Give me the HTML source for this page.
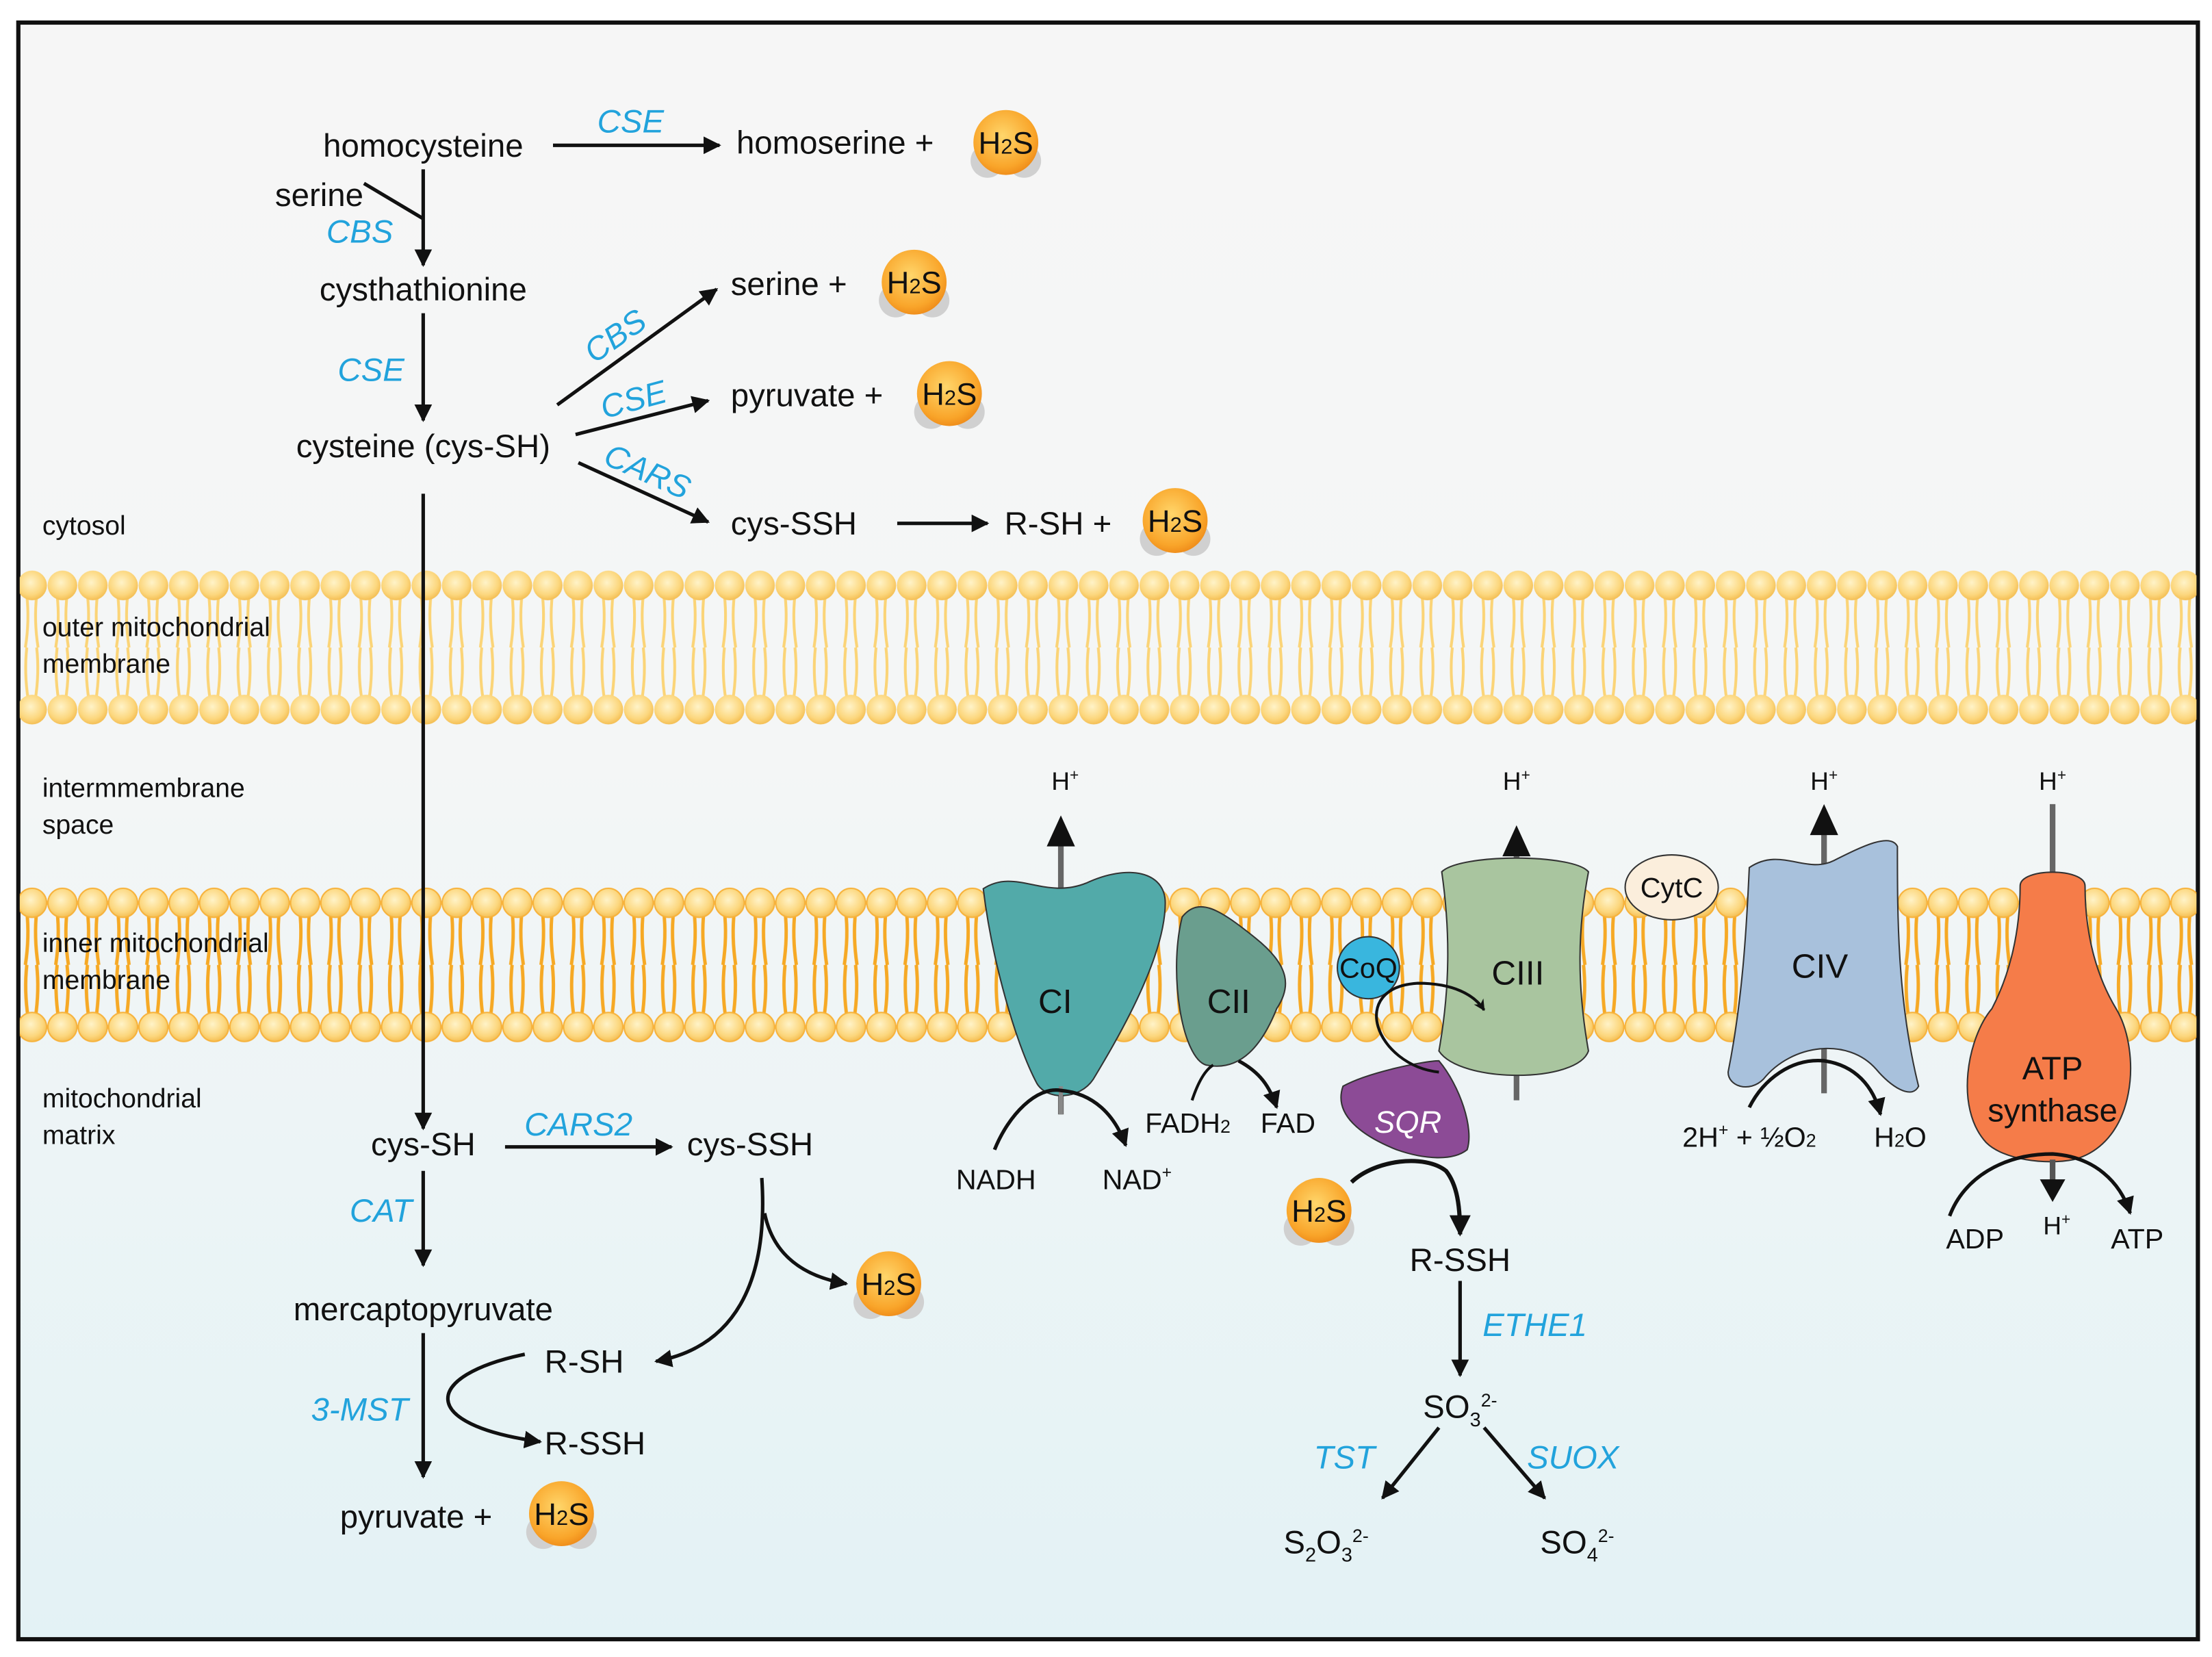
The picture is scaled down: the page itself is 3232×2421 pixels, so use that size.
<!DOCTYPE html>
<html><head><meta charset="utf-8"><style>
html,body{margin:0;padding:0;background:#fff}
svg{display:block}
text{font-family:"Liberation Sans",sans-serif;font-size:23px;fill:#111}
.e{fill:#22a3dc;font-style:italic}
</style></head><body>
<svg width="3232" height="2421" viewBox="0 0 1568 1174.6" preserveAspectRatio="none" xmlns="http://www.w3.org/2000/svg">
<defs>
<linearGradient id="bg" x1="0" y1="0" x2="0" y2="1">
<stop offset="0" stop-color="#f6f6f6"/><stop offset="0.45" stop-color="#f4f6f6"/><stop offset="1" stop-color="#e3f2f5"/></linearGradient>
<radialGradient id="hd" cx="0.45" cy="0.4" r="0.6"><stop offset="0" stop-color="#fff3c8"/><stop offset="0.7" stop-color="#fcd77e"/><stop offset="1" stop-color="#f4bf55"/></radialGradient>
<radialGradient id="hs" cx="0.45" cy="0.4" r="0.6"><stop offset="0" stop-color="#ffd66b"/><stop offset="0.8" stop-color="#f9a52a"/><stop offset="1" stop-color="#f08f1c"/></radialGradient>
<pattern id="mem" x="12" y="404" width="21.5" height="110" patternUnits="userSpaceOnUse">
<path d="M7,18 q2,18 -1,37 M14,18 q-2,18 1,37 M7,55 q-2,18 1,37 M14,55 q2,18 -1,37" stroke="#fbd477" stroke-width="2" fill="none"/>
<circle cx="10.75" cy="11" r="10.5" fill="url(#hd)"/>
<circle cx="10.75" cy="99" r="10.5" fill="url(#hd)"/>
</pattern>
<pattern id="mem2" x="12" y="628" width="21.5" height="112" patternUnits="userSpaceOnUse">
<path d="M7,18 q2,18 -1,38 M14,18 q-2,18 1,38 M7,56 q-2,18 1,38 M14,56 q2,18 -1,38" stroke="#f6a925" stroke-width="2.4" fill="none"/>
<circle cx="10.75" cy="12" r="10.3" fill="url(#hd)" stroke="#f7b23b" stroke-width="1"/>
<circle cx="10.75" cy="100" r="10.3" fill="url(#hd)" stroke="#f7b23b" stroke-width="1"/>
</pattern>
<marker id="a" viewBox="0 0 10 10" refX="9" refY="5" markerWidth="5" markerHeight="5" orient="auto"><path d="M0,0L10,5L0,10z" fill="#111"/></marker>
<marker id="b" viewBox="0 0 10 10" refX="9" refY="5" markerWidth="4" markerHeight="4" orient="auto"><path d="M0,0L10,5L0,10L3,5z" fill="#111"/></marker>
<g id="h2s"><circle cx="-13" cy="13" r="12" fill="#d0d0d0"/><circle cx="13" cy="13" r="12" fill="#d0d0d0"/><circle cx="0" cy="0" r="23" fill="url(#hs)"/><text x="0" y="8" text-anchor="middle" style="font-size:22px">H<tspan style="font-size:15px">2</tspan>S</text></g>
</defs>
<rect x="0" y="0" width="1568" height="1175" fill="#fff"/>
<rect x="13" y="16" width="1545" height="1146" fill="url(#bg)" stroke="#111" stroke-width="3"/>
<rect x="14" y="404" width="1543" height="110" fill="url(#mem)"/>
<rect x="14" y="628" width="1543" height="112" fill="url(#mem2)"/>

<g stroke="#111" stroke-width="2.5" fill="none">
<line x1="392" y1="103" x2="510" y2="103" marker-end="url(#a)"/>
<line x1="300" y1="120" x2="300" y2="188" marker-end="url(#a)"/>
<line x1="258" y1="130" x2="300" y2="155"/>
<line x1="300" y1="222" x2="300" y2="298" marker-end="url(#a)"/>
<line x1="395" y1="287" x2="508" y2="205" marker-end="url(#a)"/>
<line x1="408" y1="308" x2="502" y2="284" marker-end="url(#a)"/>
<line x1="410" y1="328" x2="502" y2="370" marker-end="url(#a)"/>
<line x1="636" y1="371" x2="700" y2="371" marker-end="url(#a)"/>
<line x1="300" y1="350" x2="300" y2="800" marker-end="url(#a)"/>
<line x1="358" y1="813" x2="476" y2="813" marker-end="url(#a)"/>
<line x1="300" y1="830" x2="300" y2="897" marker-end="url(#a)"/>
<line x1="300" y1="945" x2="300" y2="1047" marker-end="url(#a)"/>
<path d="M540,835 C545,910 520,955 465,965" marker-end="url(#a)"/>
<path d="M542,860 C548,890 570,905 600,910" marker-end="url(#a)"/>
<path d="M372,960 C300,975 295,1010 383,1022" marker-end="url(#a)"/>
</g>
<text x="300" y="111" text-anchor="middle">homocysteine</text>
<text x="447" y="94" text-anchor="middle" class="e">CSE</text>
<text x="522" y="109">homoserine +</text>
<use href="#h2s" x="713" y="101"/>
<text x="195" y="146">serine</text>
<text x="255" y="172" text-anchor="middle" class="e">CBS</text>
<text x="300" y="213" text-anchor="middle">cysthathionine</text>
<text x="263" y="270" text-anchor="middle" class="e">CSE</text>
<text x="300" y="324" text-anchor="middle">cysteine (cys-SH)</text>
<text x="436" y="246" text-anchor="middle" class="e" transform="rotate(-35 436 238)">CBS</text>
<text x="518" y="209">serine +</text>
<use href="#h2s" x="648" y="200"/>
<text x="449" y="291" text-anchor="middle" class="e" transform="rotate(-15 449 283)">CSE</text>
<text x="518" y="288">pyruvate +</text>
<use href="#h2s" x="673" y="279"/>
<text x="459" y="342" text-anchor="middle" class="e" transform="rotate(24 459 334)">CARS</text>
<text x="518" y="379">cys-SSH</text>
<text x="712" y="379">R-SH +</text>
<use href="#h2s" x="833" y="369"/>
<text x="30" y="379" style="font-size:19px">cytosol</text>
<text x="30" y="451" style="font-size:19px">outer mitochondrial</text>
<text x="30" y="477" style="font-size:19px">membrane</text>
<text x="30" y="565" style="font-size:19px">intermmembrane</text>
<text x="30" y="591" style="font-size:19px">space</text>
<text x="30" y="675" style="font-size:19px">inner mitochondrial</text>
<text x="30" y="701" style="font-size:19px">membrane</text>
<text x="30" y="785" style="font-size:19px">mitochondrial</text>
<text x="30" y="811" style="font-size:19px">matrix</text>
<text x="300" y="819" text-anchor="middle">cys-SH</text>
<text x="410" y="805" text-anchor="middle" class="e">CARS2</text>
<text x="487" y="819">cys-SSH</text>
<text x="270" y="866" text-anchor="middle" class="e">CAT</text>
<text x="300" y="936" text-anchor="middle">mercaptopyruvate</text>
<use href="#h2s" x="630" y="910"/>
<text x="386" y="973">R-SH</text>
<text x="386" y="1031">R-SSH</text>
<text x="255" y="1007" text-anchor="middle" class="e">3-MST</text>
<text x="241" y="1083">pyruvate +</text>
<use href="#h2s" x="398" y="1073"/>

<g stroke="#666" stroke-width="4"><line x1="752" y1="790" x2="752" y2="595"/><line x1="1075" y1="780" x2="1075" y2="590"/><line x1="1293" y1="775" x2="1293" y2="585"/><line x1="1455" y1="570" x2="1455" y2="625"/></g>
<g fill="#111"><path d="M742,600L752,578L762,600z"/><path d="M1065,607L1075,585L1085,607z"/><path d="M1283,592L1293,570L1303,592z"/></g>
<text x="755" y="560" text-anchor="middle" style="font-size:18px">H<tspan dy="-7" style="font-size:11px">+</tspan></text>
<text x="1075" y="560" text-anchor="middle" style="font-size:18px">H<tspan dy="-7" style="font-size:11px">+</tspan></text>
<text x="1293" y="560" text-anchor="middle" style="font-size:18px">H<tspan dy="-7" style="font-size:11px">+</tspan></text>
<text x="1455" y="560" text-anchor="middle" style="font-size:18px">H<tspan dy="-7" style="font-size:11px">+</tspan></text>

<path d="M697,630 C720,615 740,638 770,626 C800,612 826,618 826,640 C826,680 790,740 775,765 C765,780 742,780 735,768 C720,740 703,680 697,630z" fill="#52aaa9" stroke="#333" stroke-width="1"/>
<line x1="752" y1="770" x2="752" y2="790" stroke="#888" stroke-width="3"/>
<text x="748" y="718" text-anchor="middle" style="font-size:24px">CI</text>
<path d="M838,650 C850,635 865,645 890,665 C915,685 915,700 905,715 C895,740 880,760 855,755 C838,750 828,690 838,650z" fill="#6a9e8e" stroke="#333" stroke-width="1"/>
<text x="871" y="718" text-anchor="middle" style="font-size:24px">CII</text>
<path d="M1022,618 C1035,605 1115,605 1126,618 C1118,660 1118,700 1126,745 C1118,768 1035,768 1020,745 C1028,700 1028,660 1022,618z" fill="#a9c59f" stroke="#333" stroke-width="1"/>
<text x="1076" y="698" text-anchor="middle" style="font-size:24px">CIII</text>
<circle cx="970" cy="686" r="22" fill="#39b6de" stroke="#333" stroke-width="1"/>
<text x="970" y="693" text-anchor="middle" style="font-size:20px">CoQ</text>
<path d="M952,770 C970,760 1010,752 1020,752 C1035,770 1045,800 1040,815 C1030,823 1010,822 990,815 C965,805 945,790 952,770z" fill="#8c4b96" stroke="#333" stroke-width="1"/>
<text x="998" y="803" text-anchor="middle" style="font-size:22px;fill:#fff;font-style:italic">SQR</text>
<path d="M1020,760 C975,755 955,700 1005,697 C1030,697 1045,705 1052,716" stroke="#111" stroke-width="2" fill="none" marker-end="url(#b)"/>
<ellipse cx="1185" cy="629" rx="33" ry="23" fill="#fbeedc" stroke="#333" stroke-width="1"/>
<text x="1185" y="636" text-anchor="middle" style="font-size:20px">CytC</text>
<path d="M1240,615 C1262,600 1280,620 1300,610 C1320,600 1340,590 1345,600 C1345,650 1345,710 1360,770 C1355,780 1340,770 1330,758 C1310,735 1270,740 1250,765 C1240,775 1225,770 1225,760 C1235,710 1238,660 1240,615z" fill="#a8c1dc" stroke="#333" stroke-width="1"/>
<text x="1290" y="693" text-anchor="middle" style="font-size:24px">CIV</text>
<path d="M1432,628 C1432,615 1478,615 1478,628 C1478,660 1485,690 1500,715 C1518,745 1515,810 1470,822 C1450,826 1420,822 1408,810 C1385,785 1395,735 1412,715 C1425,690 1432,660 1432,628z" fill="#f57c49" stroke="#333" stroke-width="1"/>
<text x="1455" y="765" text-anchor="middle" style="font-size:23px">ATP</text>
<text x="1455" y="795" text-anchor="middle" style="font-size:23px">synthase</text>

<g stroke="#111" stroke-width="2" fill="none">
<path d="M705,815 C715,790 735,770 752,773 C775,775 790,790 798,812" marker-end="url(#a)" stroke-width="2.5"/>
<path d="M845,780 C850,765 855,758 860,755"/>
<path d="M878,752 C893,760 900,770 905,785" marker-end="url(#a)" stroke-width="2.5"/>
<path d="M958,838 C975,822 1010,818 1025,830 C1033,840 1035,855 1035,875" marker-end="url(#a)" stroke-width="3"/>
<line x1="1035" y1="908" x2="1035" y2="975" marker-end="url(#a)" stroke-width="2.5"/>
<line x1="1020" y1="1012" x2="980" y2="1062" marker-end="url(#a)" stroke-width="2.5"/>
<line x1="1052" y1="1012" x2="1095" y2="1062" marker-end="url(#a)" stroke-width="2.5"/>
<path d="M1240,785 C1250,765 1270,750 1293,752 C1315,755 1328,770 1333,790" marker-end="url(#a)" stroke-width="2.5"/>
<path d="M1382,862 C1392,835 1420,818 1455,818 C1485,820 1503,838 1510,860" marker-end="url(#a)" stroke-width="2.5"/>
</g>
<line x1="1455" y1="822" x2="1455" y2="842" stroke="#555" stroke-width="4"/>
<path d="M1446,836L1455,852L1464,836z" fill="#111"/>
<text x="706" y="843" text-anchor="middle" style="font-size:20px">NADH</text>
<text x="806" y="843" text-anchor="middle" style="font-size:20px">NAD<tspan dy="-8" style="font-size:12px">+</tspan></text>
<text x="842" y="803" text-anchor="middle" style="font-size:20px">FADH<tspan style="font-size:13px">2</tspan></text>
<text x="913" y="803" text-anchor="middle" style="font-size:20px">FAD</text>
<use href="#h2s" x="935" y="858"/>
<text x="1035" y="901" text-anchor="middle">R-SSH</text>
<text x="1088" y="947" text-anchor="middle" class="e">ETHE1</text>
<text x="1035" y="1005" text-anchor="middle">SO<tspan dy="6" style="font-size:14px">3</tspan><tspan dy="-14" style="font-size:13px">2-</tspan></text>
<text x="953" y="1041" text-anchor="middle" class="e">TST</text>
<text x="1115" y="1041" text-anchor="middle" class="e">SUOX</text>
<text x="940" y="1101" text-anchor="middle">S<tspan dy="6" style="font-size:14px">2</tspan><tspan dy="-6">O</tspan><tspan dy="6" style="font-size:14px">3</tspan><tspan dy="-14" style="font-size:13px">2-</tspan></text>
<text x="1118" y="1101" text-anchor="middle">SO<tspan dy="6" style="font-size:14px">4</tspan><tspan dy="-14" style="font-size:13px">2-</tspan></text>
<text x="1240" y="813" text-anchor="middle" style="font-size:20px">2H<tspan dy="-8" style="font-size:12px">+</tspan><tspan dy="8"> + ½O</tspan><tspan style="font-size:13px">2</tspan></text>
<text x="1347" y="813" text-anchor="middle" style="font-size:20px">H<tspan style="font-size:13px">2</tspan>O</text>
<text x="1400" y="885" text-anchor="middle" style="font-size:20px">ADP</text>
<text x="1458" y="875" text-anchor="middle" style="font-size:18px">H<tspan dy="-7" style="font-size:11px">+</tspan></text>
<text x="1515" y="885" text-anchor="middle" style="font-size:20px">ATP</text>
</svg>
</body></html>
